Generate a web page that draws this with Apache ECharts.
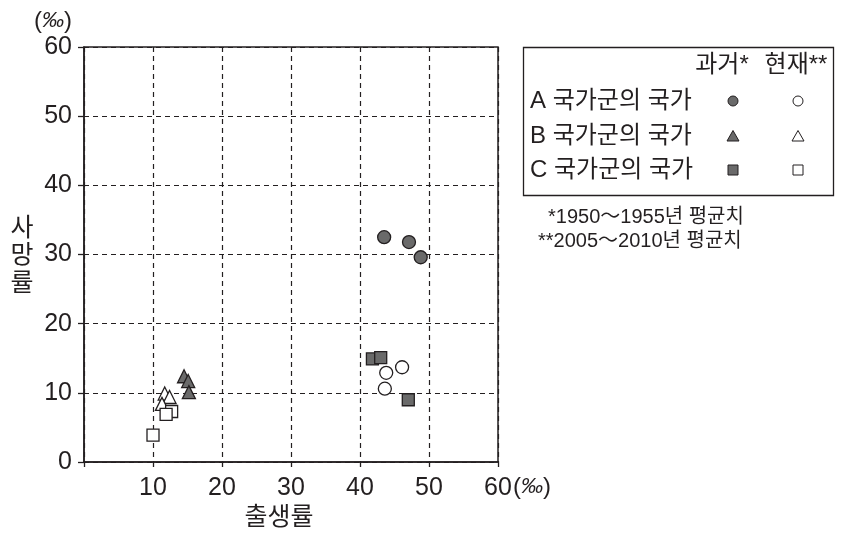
<!DOCTYPE html>
<html><head><meta charset="utf-8">
<script src="https://cdn.jsdelivr.net/npm/echarts@6/dist/echarts.min.js"></script>
<style>html,body{margin:0;padding:0;background:#fff}#c{width:850px;height:538px}</style>
</head><body><div id="c"></div>
<script>
// Data (‰)
const xTicks = [0, 10, 20, 30, 40, 50, 60];
const yTicks = [0, 10, 20, 30, 40, 50, 60];
const aPastX = [43.5, 47.1, 48.8];
const aPastY = [32.5, 31.8, 29.6];
const aNowX = [43.8, 46.1, 43.6];
const aNowY = [12.9, 13.7, 10.6];
const bPastX = [14.5, 15.1, 15.2];
const bPastY = [12.4, 11.7, 10.1];
const bNowX = [11.7, 12.4, 11.3];
const bNowY = [9.9, 9.4, 8.4];
const cPastX = [41.8, 43.0, 47.0];
const cPastY = [14.9, 15.1, 9.0];
const cNowX = [12.7, 11.9, 10.0];
const cNowY = [7.3, 6.9, 3.9];
const groupLabels = ['A 국가군의 국가', 'B 국가군의 국가', 'C 국가군의 국가'];
const colHeaders = ['과거*', '현재**'];
const notes = ['*1950～1955년 평균치', '**2005～2010년 평균치'];

const INK = '#231f20', DARK = '#6a6a6a';
const FONT = "'Liberation Sans', 'Noto Sans CJK KR', sans-serif";
const zip = (xs, ys) => xs.map((x, i) => [x, ys[i]]);

function ser(name, xs, ys, sym, size, fill, z) {
  return { name, type: 'scatter', data: zip(xs, ys), symbol: sym, symbolSize: size, z: z,
    itemStyle: { color: fill, borderColor: INK, borderWidth: 1.3, opacity: 1 }, emphasis: { disabled: true } };
}
function txt(x, y, text, size, align, extra) {
  return Object.assign({ type: 'text', x, y, style: { text, font: size + 'px ' + FONT, fill: INK, align: align || 'left', verticalAlign: 'middle' } }, extra || {});
}

const chart = echarts.init(document.getElementById('c'), null, { renderer: 'canvas' });
const G = [];
G.push({ type: 'rect', shape: { x: 523.5, y: 47.5, width: 310, height: 148 }, style: { fill: '#fff', stroke: INK, lineWidth: 1.3 } });
G.push(txt(722, 65, colHeaders[0], 24, 'center'));
G.push(txt(796, 65, colHeaders[1], 24, 'center'));
const rowY = [101, 136, 170];
groupLabels.forEach((t, i) => G.push(txt(530, rowY[i], t, 24)));
const px = 733, nx = 798;
G.push({ type: 'circle', shape: { cx: px, cy: rowY[0], r: 5 }, style: { fill: DARK, stroke: INK, lineWidth: 1 } });
G.push({ type: 'circle', shape: { cx: nx, cy: rowY[0], r: 5 }, style: { fill: '#fff', stroke: INK, lineWidth: 1 } });
G.push({ type: 'polygon', shape: { points: [[px, rowY[1] - 5.5], [px + 6, rowY[1] + 5], [px - 6, rowY[1] + 5]] }, style: { fill: DARK, stroke: INK, lineWidth: 1 } });
G.push({ type: 'polygon', shape: { points: [[nx, rowY[1] - 5.5], [nx + 6, rowY[1] + 5], [nx - 6, rowY[1] + 5]] }, style: { fill: '#fff', stroke: INK, lineWidth: 1 } });
G.push({ type: 'rect', shape: { x: px - 5, y: rowY[2] - 5, width: 10, height: 10 }, style: { fill: DARK, stroke: INK, lineWidth: 1 } });
G.push({ type: 'rect', shape: { x: nx - 5, y: rowY[2] - 5, width: 10, height: 10 }, style: { fill: '#fff', stroke: INK, lineWidth: 1 } });
G.push(txt(548, 217, notes[0], 20));
G.push(txt(538, 241, notes[1], 20));
// unit labels and axis names
const unitRich = { p: { fontSize: 24, fontFamily: FONT, fill: INK, fontStyle: 'normal' }, i: { fontSize: 22, fontFamily: FONT, fill: INK, fontStyle: 'italic' } };
G.push({ type: 'text', x: 53, y: 21, style: { text: '{p|(}{i|‰}{p|)}', rich: unitRich, align: 'center', verticalAlign: 'middle' } });
G.push({ type: 'text', x: 532, y: 487, style: { text: '{p|(}{i|‰}{p|)}', rich: unitRich, align: 'center', verticalAlign: 'middle' } });
G.push(txt(279, 518, '출생률', 25, 'center'));
['사', '망', '률'].forEach((ch, i) => G.push(txt(22, 229 + i * 27.5, ch, 25, 'center')));

chart.setOption({
  animation: false,
  backgroundColor: '#fff',
  grid: { left: 84, right: 352, top: 47, bottom: 76, show: true, borderColor: INK, borderWidth: 1.5, backgroundColor: 'transparent' },
  xAxis: {
    type: 'value', min: xTicks[0], max: xTicks[xTicks.length - 1], interval: 10,
    axisLine: { show: true, onZero: false, lineStyle: { color: INK, width: 1.5 } },
    axisTick: { show: true, length: 5, lineStyle: { color: INK, width: 1.3 } },
    axisLabel: { color: INK, fontSize: 25, fontFamily: FONT, margin: 14, formatter: v => (v === 0 ? '' : String(v)) },
    splitLine: { show: true, lineStyle: { color: INK, type: [5, 4], width: 1.2 } }
  },
  yAxis: {
    type: 'value', min: yTicks[0], max: yTicks[yTicks.length - 1], interval: 10,
    axisLine: { show: true, onZero: false, lineStyle: { color: INK, width: 1.5 } },
    axisTick: { show: true, length: 6, lineStyle: { color: INK, width: 1.3 } },
    axisLabel: { color: INK, fontSize: 25, fontFamily: FONT, margin: 12 },
    splitLine: { show: true, lineStyle: { color: INK, type: [5, 4], width: 1.2 } }
  },
  series: [
    ser('A 과거', aPastX, aPastY, 'circle', 13, DARK, 3),
    ser('A 현재', aNowX, aNowY, 'circle', 13, '#fff', 3),
    ser('B 과거', bPastX, bPastY, 'triangle', 13, DARK, 3),
    ser('B 현재', bNowX, bNowY, 'triangle', 13, '#fff', 3),
    ser('C 과거', cPastX, cPastY, 'rect', 12, DARK, 4),
    ser('C 현재', cNowX, cNowY, 'rect', 12, '#fff', 4)
  ],
  graphic: G
});
</script></body></html>
